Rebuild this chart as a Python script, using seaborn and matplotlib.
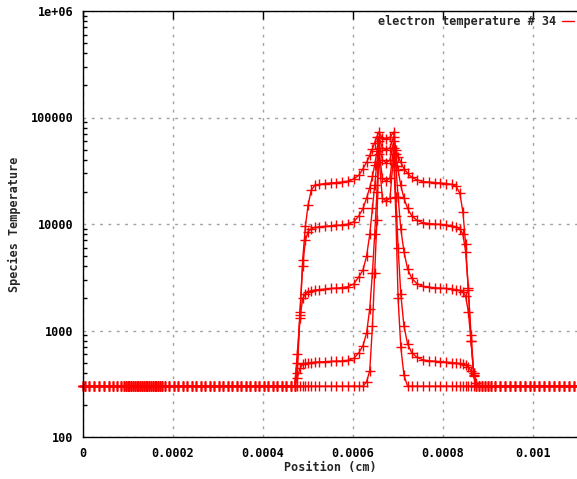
import matplotlib
matplotlib.use("Agg")
import matplotlib.pyplot as plt
import matplotlib.ticker as mticker
import numpy as np
import pandas as pd
import seaborn as sns

# Positions are given in units of 1e-4 cm
AMBIENT_T = 300

left_x = [0.0, 0.04, 0.14, 0.25, 0.36, 0.47, 0.57, 0.67, 0.76, 0.84, 0.90, 0.95, 0.99,
          1.03, 1.07, 1.11, 1.15, 1.19, 1.23, 1.27, 1.31, 1.35, 1.39, 1.43, 1.47,
          1.51, 1.55, 1.59, 1.63, 1.67, 1.71, 1.76, 1.83, 1.92, 2.02, 2.12, 2.22,
          2.32, 2.42, 2.52, 2.62, 2.72, 2.82, 2.92, 3.02, 3.12, 3.22, 3.32, 3.42,
          3.52, 3.62, 3.72, 3.82, 3.92, 4.02, 4.12, 4.22, 4.32, 4.42, 4.52, 4.61]

right_x = [8.86, 8.92, 8.99, 9.07, 9.16, 9.26, 9.37, 9.48, 9.59, 9.70, 9.81, 9.92,
           10.03, 10.14, 10.25, 10.36, 10.47, 10.58, 10.69, 10.80, 10.91, 10.99]

core_x = [4.70, 4.76, 4.82, 4.88, 4.94, 5.00, 5.07, 5.15, 5.25, 5.37, 5.50, 5.63,
          5.76, 5.89, 6.02, 6.13, 6.22, 6.30, 6.37, 6.43, 6.48, 6.53, 6.57, 6.65,
          6.735, 6.82, 6.90, 6.95, 7.00, 7.06, 7.13, 7.21, 7.30, 7.42, 7.55, 7.68,
          7.81, 7.94, 8.07, 8.19, 8.29, 8.37, 8.44, 8.50, 8.56, 8.62, 8.68, 8.74, 8.80]

temp_a = [300, 400, 1400, 4600, 9500, 15000, 20800, 23000, 23500, 24000, 24300, 24500,
          24800, 25300, 26500, 28800, 33000, 38000, 44000, 51000, 58000, 66000, 73000, 64000,
          63000, 65000, 73000, 50000, 43000, 38000, 33000, 30000, 27500, 26000, 25000, 24800,
          24500, 24300, 24000, 23500, 22500, 19500, 13000, 6500, 2400, 800, 380, 300, 300]

temp_b = [300, 500, 1500, 4000, 7000, 8500, 9000, 9300, 9400, 9500, 9600, 9700,
          9800, 10000, 10500, 12000, 14000, 17500, 22000, 28000, 36000, 48000, 66000, 52000,
          49500, 52000, 66000, 45000, 32000, 23000, 17500, 14000, 12000, 10800, 10300, 10100,
          10000, 9900, 9800, 9600, 9400, 9000, 8000, 5500, 2500, 900, 400, 300, 300]

temp_c = [300, 600, 1300, 2000, 2200, 2300, 2350, 2400, 2420, 2450, 2480, 2500,
          2530, 2580, 2750, 3200, 3700, 5000, 8000, 14000, 23000, 38000, 60000, 40000,
          37400, 40000, 60000, 35000, 18000, 9000, 5500, 3800, 3100, 2750, 2600, 2550,
          2520, 2500, 2480, 2450, 2420, 2380, 2300, 2100, 1500, 800, 400, 300, 300]

temp_d = [300, 360, 440, 480, 490, 495, 500, 505, 507, 510, 512, 515,
          518, 525, 550, 620, 720, 950, 1600, 3500, 8000, 20000, 52000, 27000,
          25300, 27000, 52000, 18000, 6000, 2200, 1100, 750, 620, 560, 530, 520,
          515, 510, 505, 500, 495, 490, 480, 470, 450, 420, 370, 320, 300]

temp_e = [300, 300, 300, 300, 300, 300, 300, 300, 300, 300, 300, 300,
          300, 300, 300, 300, 300, 330, 420, 1100, 3500, 11000, 45000, 17500,
          16400, 17500, 45000, 12000, 2000, 700, 380, 300, 300, 300, 300, 300,
          300, 300, 300, 300, 300, 300, 300, 300, 300, 300, 300, 300, 300]

profiles = {"a": temp_a, "b": temp_b, "c": temp_c, "d": temp_d, "e": temp_e}

x_ticks = [0, 0.0002, 0.0004, 0.0006, 0.0008, 0.001]
x_tick_labels = ["0", "0.0002", "0.0004", "0.0006", "0.0008", "0.001"]
y_ticks = [100, 1000, 10000, 100000, 1000000]
y_tick_labels = ["100", "1000", "10000", "100000", "1e+06"]

rows = []
for name, temps in profiles.items():
    xs = left_x + core_x + right_x
    ts = [AMBIENT_T] * len(left_x) + temps + [AMBIENT_T] * len(right_x)
    for xv, tv in zip(xs, ts):
        rows.append({"profile": name, "pos": xv * 1e-4, "temp": tv})
df = pd.DataFrame(rows)

sns.set_theme(style="white")
plt.rcParams["font.family"] = ["DejaVu Sans Mono", "DejaVu Sans"]
plt.rcParams["font.weight"] = "bold"

W, H = 577, 479
fig = plt.figure(figsize=(W / 100, H / 100), dpi=100)
ax = fig.add_axes([83 / W, 1 - 437 / H, 1 - 83 / W + 0.002, (437 - 11) / H])

for i, name in enumerate(profiles):
    sns.lineplot(data=df[df["profile"] == name], x="pos", y="temp", ax=ax,
                 color="#ff0000", linewidth=1.0, marker="+", markersize=7,
                 markeredgewidth=1.0, markeredgecolor="#ff0000",
                 label="electron temperature # 34" if i == 0 else None,
                 estimator=None, sort=False, clip_on=False)

ax.set_yscale("log")
ax.set_xlim(0, 0.0011)
ax.set_ylim(100, 1e6)

ax.set_xticks(x_ticks)
ax.set_xticklabels(x_tick_labels)
ax.yaxis.set_major_locator(mticker.FixedLocator(y_ticks))
ax.yaxis.set_major_formatter(mticker.FixedFormatter(y_tick_labels))
ax.yaxis.set_minor_locator(mticker.LogLocator(base=10, subs=np.arange(2, 10)))
ax.yaxis.set_minor_formatter(mticker.NullFormatter())

ax.tick_params(axis="both", which="major", direction="in", length=6, width=1,
               color="black", labelsize=8.5, labelcolor="black", pad=7,
               top=True, right=False)
ax.tick_params(axis="y", which="minor", direction="in", length=3, width=1,
               color="black", left=True, right=False)
for lab in ax.get_xticklabels() + ax.get_yticklabels():
    lab.set_fontweight("bold")

ax.grid(True, which="major", color="#a0a0a0", linestyle=(0, (2, 4)), linewidth=1)
for side in ["left", "bottom", "top"]:
    ax.spines[side].set_color("black")
    ax.spines[side].set_linewidth(1)
ax.spines["right"].set_visible(False)

ax.set_xlabel("Position (cm)", fontsize=8.5, fontweight="bold")
ax.set_ylabel("Species Temperature", fontsize=8.5, fontweight="bold")
ax_w = W - 83
ax_h = 437 - 11
ax.xaxis.set_label_coords((330 - 83) / ax_w, -(467 - 437) / ax_h)
ax.yaxis.set_label_coords(-(83 - 15) / ax_w, (437 - 224) / ax_h)
ax.xaxis.label.set_va("center")
ax.yaxis.label.set_va("center")

leg = ax.legend(loc="upper right", markerfirst=False, frameon=False,
                fontsize=8.5, handlelength=1.0, handletextpad=0.5,
                borderaxespad=0.0, borderpad=0.35)
for t in leg.get_texts():
    t.set_fontweight("bold")
for h in leg.legend_handles:
    h.set_marker("")

fig.savefig("out.png", dpi=100, facecolor="white")
